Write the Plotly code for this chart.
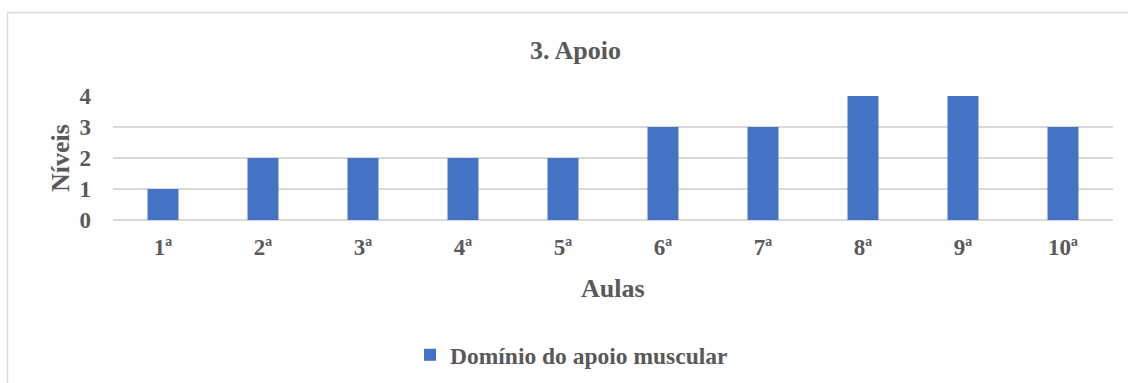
import plotly.graph_objects as go

categories = ["1ª", "2ª", "3ª", "4ª", "5ª", "6ª", "7ª", "8ª", "9ª", "10ª"]
values = [1, 2, 2, 2, 2, 3, 3, 4, 4, 3]
series_name = "Domínio do apoio muscular"
title_text = "3. Apoio"
x_title = "Aulas"
y_title = "Níveis"

W, H = 1128, 383
L, R, T, B = 113, 15, 96, 163
pw = W - L - R
ph = H - T - B

def px_x(x):
    return (x - L) / pw

def px_y(y):
    return (H - B - y) / ph

FONT = "Liberation Serif, Times New Roman, DejaVu Serif, serif"
TXT = "#595959"

fig = go.Figure()
fig.add_trace(go.Bar(
    x=categories, y=values, name=series_name,
    marker=dict(color="#4472C4", line=dict(width=0)),
    showlegend=True,
))

fig.update_layout(
    width=W, height=H,
    margin=dict(l=L, r=R, t=T, b=B, autoexpand=False),
    paper_bgcolor="white", plot_bgcolor="white",
    bargap=0.69,
    font=dict(family=FONT, color=TXT, weight="bold"),
    showlegend=True,
    legend=dict(
        orientation="h", x=px_x(410), xanchor="left",
        y=px_y(355), yanchor="middle",
        font=dict(family=FONT, size=23.5, color=TXT, weight="bold"),
        itemwidth=30,
    ),
    xaxis=dict(
        type="category", showgrid=False, showline=False, ticks="",
        tickfont=dict(family=FONT, size=23, color=TXT, weight="bold"),
        ticklabelstandoff=11, automargin=False,
    ),
    yaxis=dict(
        range=[0, 4], dtick=1, showgrid=True, gridcolor="#d9d9d9", gridwidth=1.5,
        zeroline=True, zerolinecolor="#d9d9d9", zerolinewidth=1.5,
        showline=False, ticks="",
        tickfont=dict(family=FONT, size=23, color=TXT, weight="bold"),
        ticklabelstandoff=21, automargin=False,
    ),
    annotations=[
        dict(text=title_text, xref="paper", yref="paper", x=px_x(575), y=px_y(50),
             xanchor="center", yanchor="middle", showarrow=False,
             font=dict(family=FONT, size=26, color=TXT, weight="bold")),
        dict(text=x_title, xref="paper", yref="paper", x=px_x(613), y=px_y(288),
             xanchor="center", yanchor="middle", showarrow=False,
             font=dict(family=FONT, size=26, color=TXT, weight="bold")),
        dict(text=y_title, xref="paper", yref="paper", x=px_x(60), y=px_y(158),
             xanchor="center", yanchor="middle", showarrow=False, textangle=-90,
             font=dict(family=FONT, size=26, color=TXT, weight="bold")),
    ],
    shapes=[
        dict(type="line", xref="paper", yref="paper",
             x0=px_x(7.5), x1=px_x(1128), y0=px_y(12.5), y1=px_y(12.5),
             line=dict(color="#d9d9d9", width=1.5)),
        dict(type="line", xref="paper", yref="paper",
             x0=px_x(7.5), x1=px_x(7.5), y0=px_y(12.5), y1=px_y(383),
             line=dict(color="#d9d9d9", width=1.5)),
    ],
)

fig.write_html("out.html", config={"displayModeBar": False},
               post_script="document.body.style.margin='0px';document.body.style.overflow='hidden';")
